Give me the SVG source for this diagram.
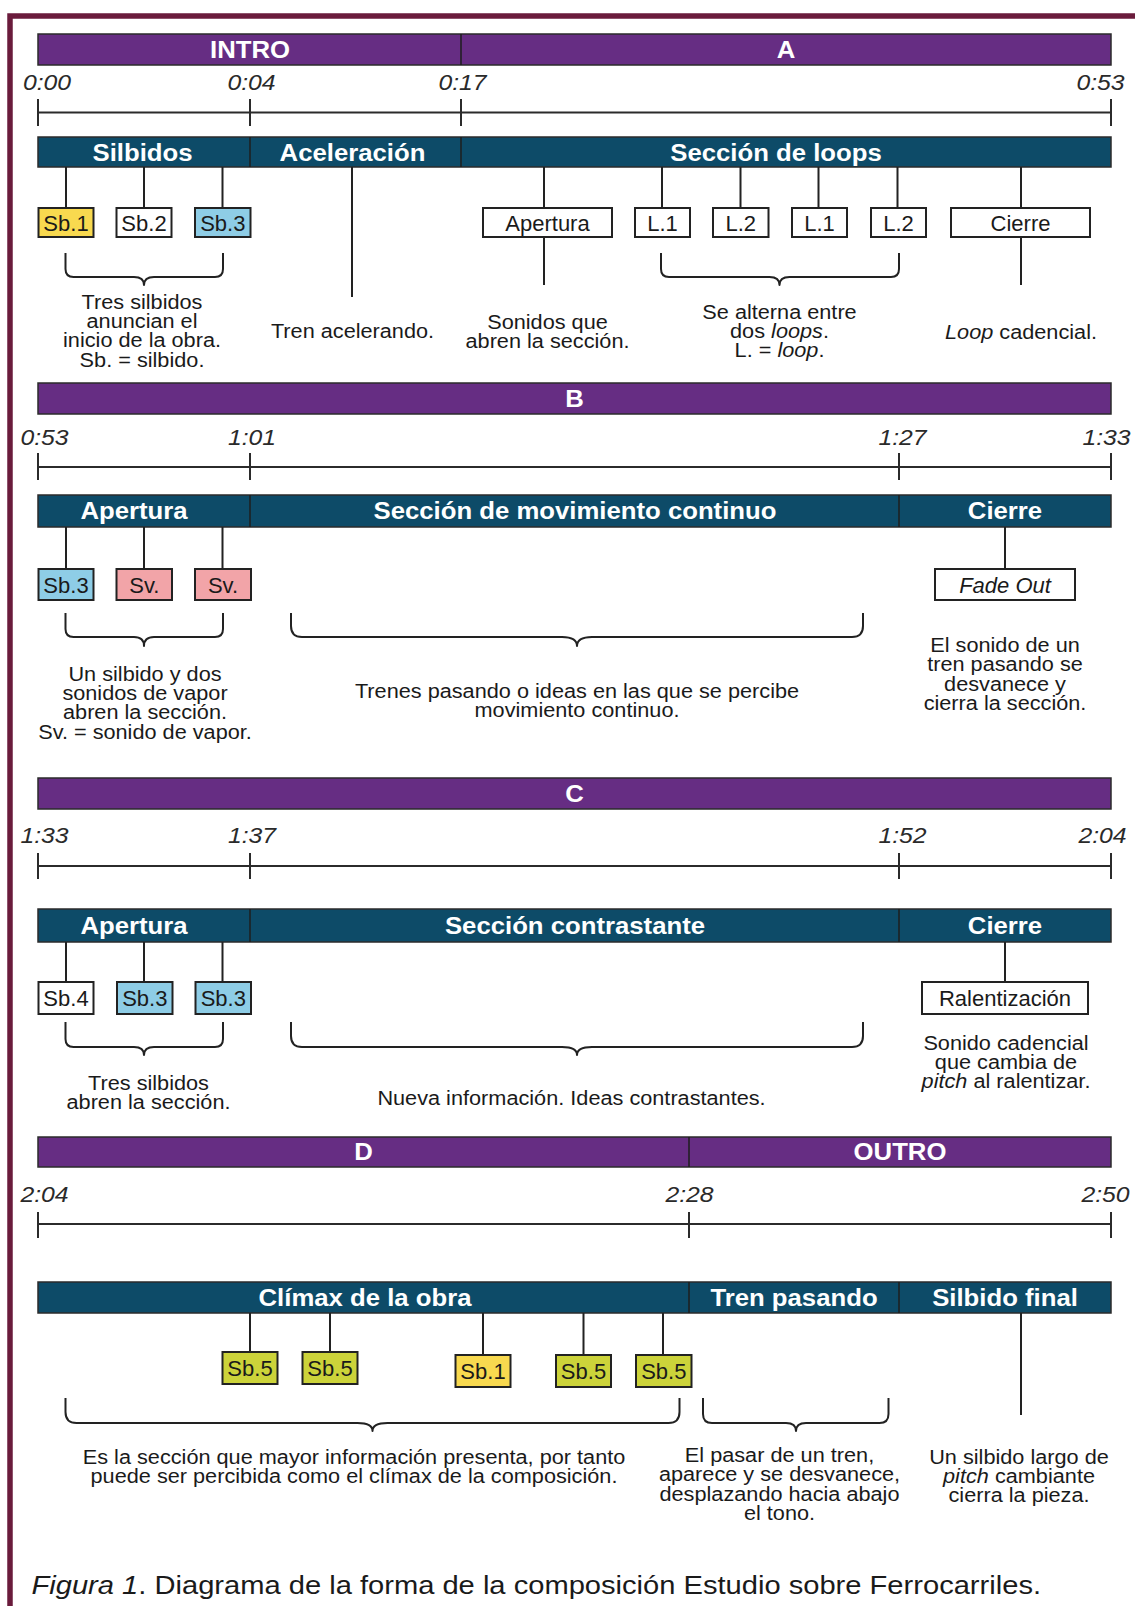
<svg xmlns="http://www.w3.org/2000/svg" width="1135" height="1606" viewBox="0 0 1135 1606">
<style>
.frame{fill:none;stroke:#6a1b3c;stroke-width:5.5}
.pb{fill:#662d83;stroke:#2b2b2b;stroke-width:1.5}
.tb{fill:#0d4b68;stroke:#2b2b2b;stroke-width:1.5}
.dv{stroke:#1e1e1e;stroke-width:1.5}
.tl{stroke:#2b2b2b;stroke-width:2;fill:none}
.st{stroke:#222;stroke-width:2}
.br{fill:none;stroke:#222;stroke-width:2;stroke-linejoin:round}
.bx{stroke:#222;stroke-width:2;fill:#fff}
.y{fill:#f8d94f}.b{fill:#8ecde6}.p{fill:#f2a4a8}.g{fill:#ccd33a}
text{font-family:'Liberation Sans',Arial,Helvetica,sans-serif}
.bl{font-weight:bold;font-size:24.5px;fill:#fff;text-anchor:middle}
.tm{font-style:italic;font-size:22.5px;fill:#2a2a2a;text-anchor:middle}
.bt{font-size:22px;fill:#1a1a1a;text-anchor:middle}
.tx{font-size:20px;fill:#1a1a1a;text-anchor:middle}
.cap{font-size:25px;fill:#1a1a1a}
.i{font-style:italic}
</style>
<rect width="1135" height="1606" fill="#fff"/>
<rect class="frame" x="10" y="16" width="1200" height="1700"/>

<!-- Section 1 -->
<g id="bar-intro-a">
<rect class="pb" x="38" y="34" width="1073" height="31"/>
<line class="dv" x1="461" y1="34" x2="461" y2="65"/>
<text class="bl" transform="translate(250,58) scale(1.05,1)">INTRO</text>
<text class="bl" transform="translate(786,58) scale(1.05,1)">A</text>
</g>
<g id="timeline-1">
<path class="tl" d="M38 112.5H1111M38 99V126M250 99V126M461 99V126M1111 99V126"/>
<text class="tm" transform="translate(47,90) scale(1.1,1)">0:00</text>
<text class="tm" transform="translate(251.5,90) scale(1.1,1)">0:04</text>
<text class="tm" transform="translate(462.5,90) scale(1.1,1)">0:17</text>
<text class="tm" transform="translate(1100.5,90) scale(1.1,1)">0:53</text>
</g>
<g id="sub-1">
<rect class="tb" x="38" y="137" width="1073" height="30"/>
<line class="dv" x1="250" y1="137" x2="250" y2="167"/>
<line class="dv" x1="461" y1="137" x2="461" y2="167"/>
<text class="bl" transform="translate(142.5,160.5) scale(1.05,1)">Silbidos</text>
<text class="bl" transform="translate(352.5,160.5) scale(1.05,1)">Aceleración</text>
<text class="bl" transform="translate(776,160.5) scale(1.05,1)">Sección de loops</text>
</g>

<!-- Section 2 -->
<g id="bar-b">
<rect class="pb" x="38" y="383" width="1073" height="31"/>
<text class="bl" transform="translate(574.5,407) scale(1.05,1)">B</text>
</g>
<g id="timeline-2">
<path class="tl" d="M38 467H1111M38 453V480M250 453V480M899 453V480M1111 453V480"/>
<text class="tm" transform="translate(44.5,445) scale(1.1,1)">0:53</text>
<text class="tm" transform="translate(252,445) scale(1.1,1)">1:01</text>
<text class="tm" transform="translate(902.5,445) scale(1.1,1)">1:27</text>
<text class="tm" transform="translate(1106.5,445) scale(1.1,1)">1:33</text>
</g>
<g id="sub-2">
<rect class="tb" x="38" y="495" width="1073" height="32"/>
<line class="dv" x1="250" y1="495" x2="250" y2="527"/>
<line class="dv" x1="899" y1="495" x2="899" y2="527"/>
<text class="bl" transform="translate(134,519) scale(1.05,1)">Apertura</text>
<text class="bl" transform="translate(575,519) scale(1.05,1)">Sección de movimiento continuo</text>
<text class="bl" transform="translate(1005,519) scale(1.05,1)">Cierre</text>
</g>

<!-- Section 3 -->
<g id="bar-c">
<rect class="pb" x="38" y="778" width="1073" height="31"/>
<text class="bl" transform="translate(574.5,802) scale(1.05,1)">C</text>
</g>
<g id="timeline-3">
<path class="tl" d="M38 866H1111M38 853V879M250 853V879M899 853V879M1111 853V879"/>
<text class="tm" transform="translate(44.5,843) scale(1.1,1)">1:33</text>
<text class="tm" transform="translate(252,843) scale(1.1,1)">1:37</text>
<text class="tm" transform="translate(902.5,843) scale(1.1,1)">1:52</text>
<text class="tm" transform="translate(1102.5,843) scale(1.1,1)">2:04</text>
</g>
<g id="sub-3">
<rect class="tb" x="38" y="909" width="1073" height="33"/>
<line class="dv" x1="250" y1="909" x2="250" y2="942"/>
<line class="dv" x1="899" y1="909" x2="899" y2="942"/>
<text class="bl" transform="translate(134,934) scale(1.05,1)">Apertura</text>
<text class="bl" transform="translate(575,934) scale(1.05,1)">Sección contrastante</text>
<text class="bl" transform="translate(1005,934) scale(1.05,1)">Cierre</text>
</g>

<!-- Section 4 -->
<g id="bar-d-outro">
<rect class="pb" x="38" y="1137" width="1073" height="30"/>
<line class="dv" x1="689" y1="1137" x2="689" y2="1167"/>
<text class="bl" transform="translate(363.5,1160) scale(1.05,1)">D</text>
<text class="bl" transform="translate(900,1160) scale(1.05,1)">OUTRO</text>
</g>
<g id="timeline-4">
<path class="tl" d="M38 1224H1111M38 1212V1238M689 1212V1238M1111 1212V1238"/>
<text class="tm" transform="translate(44.5,1202) scale(1.1,1)">2:04</text>
<text class="tm" transform="translate(689.5,1202) scale(1.1,1)">2:28</text>
<text class="tm" transform="translate(1105.5,1202) scale(1.1,1)">2:50</text>
</g>
<g id="sub-4">
<rect class="tb" x="38" y="1282" width="1073" height="31"/>
<line class="dv" x1="689" y1="1282" x2="689" y2="1313"/>
<line class="dv" x1="899" y1="1282" x2="899" y2="1313"/>
<text class="bl" transform="translate(365,1306) scale(1.05,1)">Clímax de la obra</text>
<text class="bl" transform="translate(794,1306) scale(1.05,1)">Tren pasando</text>
<text class="bl" transform="translate(1005,1306) scale(1.05,1)">Silbido final</text>
</g>

<!-- Connectors -->
<g id="connectors">
<path class="st" d="M66 167V208M144 167V208M222.5 167V208M352 167V297M544 167V208M544 237V285M662 167V208M740.5 167V208M818.5 167V208M897.5 167V208M1021 167V208M1021 237V285"/>
<path class="st" d="M66 527V569M144 527V569M222.5 527V569M1005 527V569"/>
<path class="st" d="M66 942V982M144 942V982M222.5 942V982M1005 942V982"/>
<path class="st" d="M250 1313V1352M330 1313V1352M483 1313V1355M583.5 1313V1355M663 1313V1355M1021 1313V1415"/>
<path class="br" d="M65.5 253V269Q65.5 277 73.5 277H134Q144 277 144 285Q144 277 154 277H215Q223 277 223 269V253"/>
<path class="br" d="M661 253V269Q661 277 669 277H769.5Q779.5 277 779.5 285Q779.5 277 789.5 277H891Q899 277 899 269V253"/>
<path class="br" d="M65.5 613V629Q65.5 637 73.5 637H134Q144 637 144 646Q144 637 154 637H215Q223 637 223 629V613"/>
<path class="br" d="M291 613V626Q291 637 302 637H562Q577 637 577 646Q577 637 592 637H852Q863 637 863 626V613"/>
<path class="br" d="M65.5 1022V1039Q65.5 1047 73.5 1047H134Q144 1047 144 1055Q144 1047 154 1047H215Q223 1047 223 1039V1022"/>
<path class="br" d="M291 1022V1036Q291 1047 302 1047H562Q577 1047 577 1055Q577 1047 592 1047H852Q863 1047 863 1036V1022"/>
<path class="br" d="M65.5 1398V1412Q65.5 1423 76.5 1423H357.5Q372.5 1423 372.5 1431Q372.5 1423 387.5 1423H668.5Q679.5 1423 679.5 1412V1398"/>
<path class="br" d="M703 1398V1414Q703 1423 712 1423H786Q796 1423 796 1431Q796 1423 806 1423H879.5Q888.5 1423 888.5 1414V1398"/>
</g>

<!-- Nodes: section 1 -->
<g id="n-sb1-a"><rect class="bx y" x="38.5" y="208" width="55" height="29"/><text class="bt" x="66" y="230.5">Sb.1</text></g>
<g id="n-sb2-a"><rect class="bx" x="116.5" y="208" width="55" height="29"/><text class="bt" x="144" y="230.5">Sb.2</text></g>
<g id="n-sb3-a"><rect class="bx b" x="195" y="208" width="55.5" height="29"/><text class="bt" x="222.8" y="230.5">Sb.3</text></g>
<g id="n-apertura-a"><rect class="bx" x="483" y="208" width="129" height="29"/><text class="bt" x="547.5" y="230.5">Apertura</text></g>
<g id="n-l1a"><rect class="bx" x="635" y="208" width="55" height="29"/><text class="bt" x="662.5" y="230.5">L.1</text></g>
<g id="n-l2a"><rect class="bx" x="713" y="208" width="55.5" height="29"/><text class="bt" x="740.8" y="230.5">L.2</text></g>
<g id="n-l1b"><rect class="bx" x="792" y="208" width="55" height="29"/><text class="bt" x="819.5" y="230.5">L.1</text></g>
<g id="n-l2b"><rect class="bx" x="871" y="208" width="55" height="29"/><text class="bt" x="898.5" y="230.5">L.2</text></g>
<g id="n-cierre-a"><rect class="bx" x="951" y="208" width="139" height="29"/><text class="bt" x="1020.5" y="230.5">Cierre</text></g>

<g id="d-1a"><text class="tx" transform="translate(142,308.5) scale(1.085,1)"><tspan x="0" y="0">Tres silbidos</tspan><tspan x="0" y="19.5">anuncian el</tspan><tspan x="0" y="39">inicio de la obra.</tspan><tspan x="0" y="58.5">Sb. = silbido.</tspan></text></g>
<g id="d-1b"><text class="tx" transform="translate(352.5,337.7) scale(1.085,1)">Tren acelerando.</text></g>
<g id="d-1c"><text class="tx" transform="translate(547.5,328.5) scale(1.085,1)"><tspan x="0" y="0">Sonidos que</tspan><tspan x="0" y="19.5">abren la sección.</tspan></text></g>
<g id="d-1d"><text class="tx" transform="translate(779.5,318.5) scale(1.085,1)"><tspan x="0" y="0">Se alterna entre</tspan><tspan x="0" y="19.5">dos <tspan class="i">loops</tspan>.</tspan><tspan x="0" y="39">L. = <tspan class="i">loop</tspan>.</tspan></text></g>
<g id="d-1e"><text class="tx" transform="translate(1021,338.5) scale(1.085,1)"><tspan class="i">Loop</tspan> cadencial.</text></g>

<!-- Nodes: section 2 -->
<g id="n-sb3-b"><rect class="bx b" x="38.5" y="569" width="55" height="31"/><text class="bt" x="66" y="592.5">Sb.3</text></g>
<g id="n-sv1"><rect class="bx p" x="116.5" y="569" width="55.5" height="31"/><text class="bt" x="144.3" y="592.5">Sv.</text></g>
<g id="n-sv2"><rect class="bx p" x="195" y="569" width="56" height="31"/><text class="bt" x="223" y="592.5">Sv.</text></g>
<g id="n-fade"><rect class="bx" x="935" y="569" width="140" height="31"/><text class="bt i" x="1005" y="592.5">Fade Out</text></g>

<g id="d-2a"><text class="tx" transform="translate(145,680.5) scale(1.085,1)"><tspan x="0" y="0">Un silbido y dos</tspan><tspan x="0" y="19.5">sonidos de vapor</tspan><tspan x="0" y="39">abren la sección.</tspan><tspan x="0" y="58.5">Sv. = sonido de vapor.</tspan></text></g>
<g id="d-2b"><text class="tx" transform="translate(577,697.5) scale(1.085,1)"><tspan x="0" y="0">Trenes pasando o ideas en las que se percibe</tspan><tspan x="0" y="19.5">movimiento continuo.</tspan></text></g>
<g id="d-2c"><text class="tx" transform="translate(1005,652) scale(1.085,1)"><tspan x="0" y="0">El sonido de un</tspan><tspan x="0" y="19.5">tren pasando se</tspan><tspan x="0" y="39">desvanece y</tspan><tspan x="0" y="58.5">cierra la sección.</tspan></text></g>

<!-- Nodes: section 3 -->
<g id="n-sb4"><rect class="bx" x="38.5" y="982" width="55" height="32"/><text class="bt" x="66" y="1006">Sb.4</text></g>
<g id="n-sb3-c1"><rect class="bx b" x="117" y="982" width="55.5" height="32"/><text class="bt" x="144.8" y="1006">Sb.3</text></g>
<g id="n-sb3-c2"><rect class="bx b" x="195.5" y="982" width="55.5" height="32"/><text class="bt" x="223.3" y="1006">Sb.3</text></g>
<g id="n-ralent"><rect class="bx" x="922" y="982" width="166" height="32"/><text class="bt" x="1005" y="1006">Ralentización</text></g>

<g id="d-3a"><text class="tx" transform="translate(148.5,1089.5) scale(1.085,1)"><tspan x="0" y="0">Tres silbidos</tspan><tspan x="0" y="19.5">abren la sección.</tspan></text></g>
<g id="d-3b"><text class="tx" transform="translate(571.5,1105) scale(1.085,1)">Nueva información. Ideas contrastantes.</text></g>
<g id="d-3c"><text class="tx" transform="translate(1006,1049.5) scale(1.085,1)"><tspan x="0" y="0">Sonido cadencial</tspan><tspan x="0" y="19.5">que cambia de</tspan><tspan x="0" y="39"><tspan class="i">pitch</tspan> al ralentizar.</tspan></text></g>

<!-- Nodes: section 4 -->
<g id="n-sb5-1"><rect class="bx g" x="222.5" y="1352" width="55" height="32"/><text class="bt" x="250" y="1376">Sb.5</text></g>
<g id="n-sb5-2"><rect class="bx g" x="302.5" y="1352" width="55" height="32"/><text class="bt" x="330" y="1376">Sb.5</text></g>
<g id="n-sb1-d"><rect class="bx y" x="455.5" y="1355" width="55" height="32"/><text class="bt" x="483" y="1379">Sb.1</text></g>
<g id="n-sb5-3"><rect class="bx g" x="556" y="1355" width="55" height="32"/><text class="bt" x="583.5" y="1379">Sb.5</text></g>
<g id="n-sb5-4"><rect class="bx g" x="636" y="1355" width="55.5" height="32"/><text class="bt" x="663.8" y="1379">Sb.5</text></g>

<g id="d-4a"><text class="tx" transform="translate(354,1463.5) scale(1.085,1)"><tspan x="0" y="0">Es la sección que mayor información presenta, por tanto</tspan><tspan x="0" y="19.5">puede ser percibida como el clímax de la composición.</tspan></text></g>
<g id="d-4b"><text class="tx" transform="translate(779.5,1462) scale(1.085,1)"><tspan x="0" y="0">El pasar de un tren,</tspan><tspan x="0" y="19.5">aparece y se desvanece,</tspan><tspan x="0" y="39">desplazando hacia abajo</tspan><tspan x="0" y="58.5">el tono.</tspan></text></g>
<g id="d-4c"><text class="tx" transform="translate(1019,1463.5) scale(1.085,1)"><tspan x="0" y="0">Un silbido largo de</tspan><tspan x="0" y="19.5"><tspan class="i">pitch</tspan> cambiante</tspan><tspan x="0" y="39">cierra la pieza.</tspan></text></g>

<g id="caption"><text class="cap" transform="translate(31.5,1594) scale(1.165,1)"><tspan class="i">Figura 1</tspan>. Diagrama de la forma de la composición Estudio sobre Ferrocarriles.</text></g>
</svg>
